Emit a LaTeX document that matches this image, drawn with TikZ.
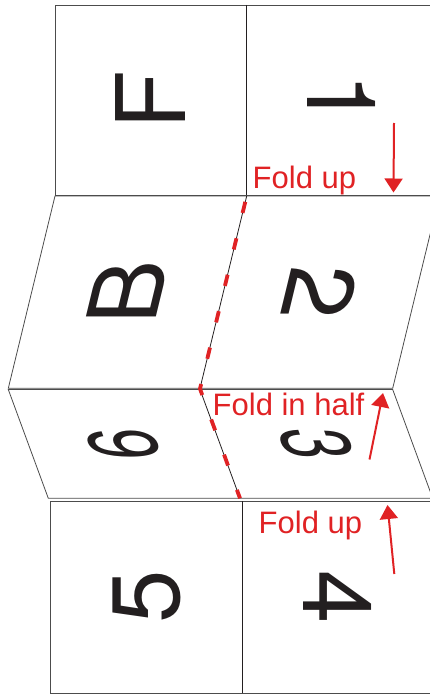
\documentclass[tikz,border=0pt]{standalone}
\usepackage{fontspec}
\setmainfont{Liberation Sans}
\newfontfamily\markfont{TeX Gyre Heros}
\usetikzlibrary{arrows.meta}
\definecolor{foldred}{RGB}{224,34,36}
\definecolor{ink}{RGB}{35,31,32}

\begin{document}
\begin{tikzpicture}[x=1pt, y=-1pt,
  panel/.style={draw=black!70, line width=0.8pt},
  hinge/.style={draw=ink, line width=0.8pt},
  foldline/.style={foldred, line width=3.8pt, dash pattern=on 11.5pt off 26pt, dash phase=31.5pt},
  foldarrow/.style={foldred, line width=2pt, -{Triangle[width=18pt,length=14pt]}},
  glyph/.style={inner sep=0pt, text=ink, font=\markfont\fontsize{96}{96}\selectfont},
  note/.style={inner sep=0pt, anchor=base west, text=foldred, font=\fontsize{31}{31}\selectfont}]
  \useasboundingbox (0,0) rectangle (430,698);
  \clip (0,0) rectangle (430,698);
  % flat panels and slanted faces
  \draw[panel] (55,5) rectangle (437.7,195);
  \draw[hinge] (246.7,5) -- (246.7,195);
  \draw[panel] (55,196) -- (439.4,196) -- (392.7,388.3) -- (8.3,388.3) -- cycle;
  \draw[hinge] (246.7,196) -- (200,388.3);
  \draw[panel] (8.3,389.5) -- (392.7,389.5) -- (432.7,498.3) -- (48.3,498.3) -- cycle;
  \draw[hinge] (200,389.5) -- (240,498.3);
  \draw[panel] (50.7,501) rectangle (433.5,693);
  \draw[hinge] (242,501) -- (242,693);
  % fold in half
  \coordinate (crease0) at (246.7,196);
  \coordinate (crease1) at (200,388.8);
  \coordinate (crease2) at (240,498.3);
  \draw[foldline] (crease0) -- (crease1) -- (crease2);
  % page marks
  \node[glyph, rotate=90] (F) at (150.5,100) {F};
  \node[glyph, rotate=-90] (one) at (341.5,100) {1};
  \node[glyph, xslant=0.243, rotate=90] (B) at (127.5,292) {B};
  \node[glyph, xslant=0.243, rotate=-90] (two) at (320,292) {2};
  \node[glyph, xslant=-0.367, yscale=0.58, rotate=90] (six) at (124,444) {6};
  \node[glyph, xslant=-0.367, yscale=0.58, rotate=-90] (three) at (316.5,444) {3};
  \node[glyph, rotate=90] (five) at (146.5,597) {5};
  \node[glyph, rotate=-90] (four) at (338,597) {4};
  % instructions
  \node[note] (upTop) at (252.5,188) {Fold up};
  \node[note] (half) at (212.5,415) {Fold in half};
  \node[note] (upBottom) at (258.5,533) {Fold up};
  \coordinate (upTop0) at (394,123);
  \coordinate (upTop1) at (393.5,192.5);
  \coordinate (half0) at (369.5,459.5);
  \coordinate (half1) at (383,393);
  \coordinate (upBottom0) at (394.3,574);
  \coordinate (upBottom1) at (387.5,505);
  \draw[foldarrow] (upTop0) -- (upTop1);
  \draw[foldarrow] (half0) -- (half1);
  \draw[foldarrow] (upBottom0) -- (upBottom1);
\end{tikzpicture}
\end{document}
